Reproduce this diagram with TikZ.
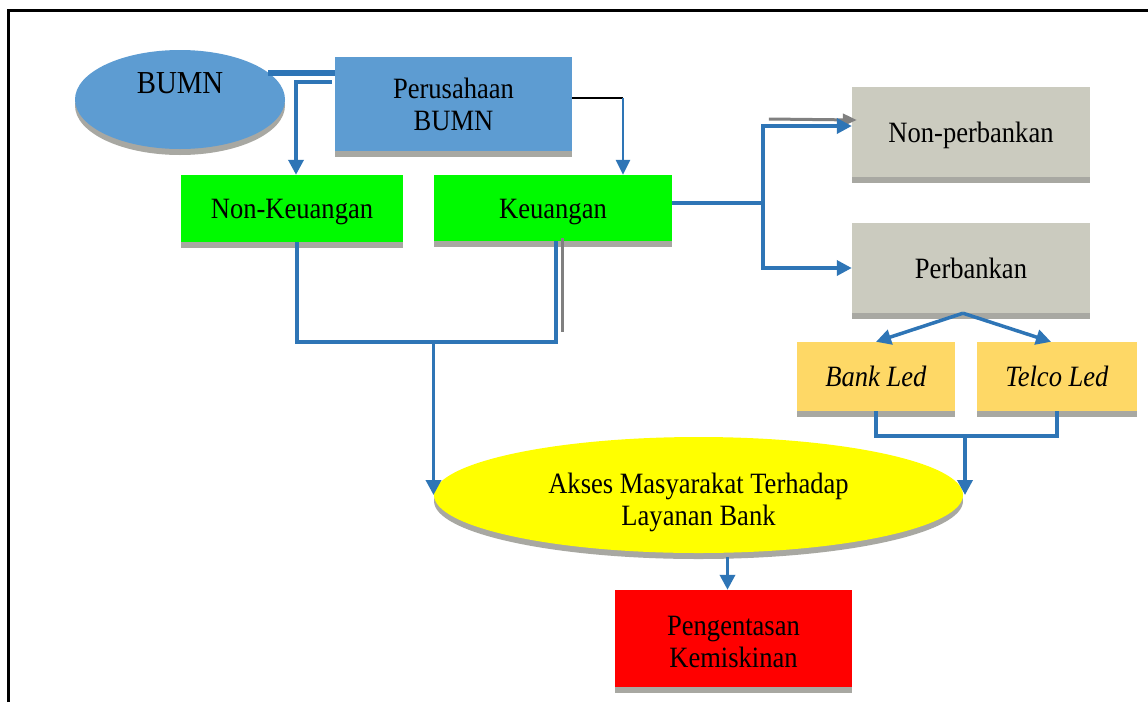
\documentclass[tikz,border=0pt]{standalone}
\usepackage{fontspec}
\setmainfont[FakeStretch=0.9]{Liberation Serif}
\usetikzlibrary{arrows.meta,shapes.geometric,shadows}
\definecolor{cblue}{RGB}{46,117,182}
\definecolor{boxblue}{RGB}{93,156,210}
\definecolor{boxgreen}{RGB}{0,250,0}
\definecolor{boxgray}{RGB}{203,203,191}
\definecolor{boxgold}{RGB}{254,216,102}
\definecolor{boxyellow}{RGB}{255,255,0}
\definecolor{boxred}{RGB}{255,0,0}
\definecolor{shadowgray}{RGB}{168,168,162}
\definecolor{ghost}{RGB}{128,128,128}
\newcommand\twoln[3][6pt]{\raisebox{#1}[0pt][0pt]{\begin{tabular}[t]{@{}c@{}}#2\\#3\end{tabular}}}
\begin{document}
\begin{tikzpicture}[x=1pt,y=-1pt,
  every node/.style={font=\fontsize{29.5}{32}\selectfont, inner sep=0pt, align=center},
  oneline/.style={text height=21pt, text depth=1pt},
  shadowed/.style={drop shadow={shadow xshift=0pt,shadow yshift=-6pt,fill=shadowgray,opacity=1}},
  boxstyle/.style={rectangle, shadowed, minimum width=#1},
  conn/.style={draw=cblue, line width=3.5pt},
  thinconn/.style={draw=cblue, line width=2.5pt},
  arr/.style={conn, -{Triangle[length=15pt,width=15pt]}},
  thinarr/.style={thinconn, -{Triangle[length=15pt,width=14pt]}},
  ghostline/.style={draw=ghost, line width=3pt},
  frameline/.style={draw=black, line width=3pt}
]
\useasboundingbox (0,0) rectangle (1148,702);
\fill[white] (0,0) rectangle (1148,702);
\draw[frameline] (8,702) -- (8,10) -- (1148,10);

% nodes
\node[ellipse, shadowed, fill=boxblue, minimum width=210pt, minimum height=99pt] (bumn) at (180,99.5)
  {\fontsize{32}{36}\selectfont\raisebox{6pt}[0pt][0pt]{BUMN}};
\node[boxstyle=237pt, fill=boxblue, minimum height=94pt] (pbumn) at (453.5,104) {\twoln{Perusahaan}{BUMN}};
\node[boxstyle=222pt, oneline, fill=boxgreen, minimum height=67pt] (nonk) at (292,208.5) {Non-Keuangan};
\node[boxstyle=238pt, oneline, fill=boxgreen, minimum height=66pt] (keu) at (553,208) {Keuangan};
\node[boxstyle=238pt, oneline, fill=boxgray, minimum height=90pt] (nonp) at (971,132) {Non-perbankan};
\node[boxstyle=238pt, oneline, fill=boxgray, minimum height=90pt] (perb) at (971,268) {Perbankan};
\node[boxstyle=158pt, oneline, fill=boxgold, minimum height=69pt] (bank) at (876,376.5) {\textit{Bank Led}};
\node[boxstyle=160pt, oneline, fill=boxgold, minimum height=69pt] (telco) at (1057,376.5) {\textit{Telco Led}};
\node[ellipse, shadowed, fill=boxyellow, minimum width=529pt, minimum height=116pt] (akses) at (698.5,495)
  {\twoln[2pt]{Akses Masyarakat Terhadap}{Layanan Bank}};
\node[boxstyle=237pt, fill=boxred, minimum height=97pt] (pov) at (733.5,638.5) {\twoln[3.5pt]{Pengentasan}{Kemiskinan}};

% BUMN -> Perusahaan, and branch to Non-Keuangan
\draw[draw=cblue, line width=6pt] (bumn.17) -- (bumn.17 -| pbumn.west);
\draw[arr] ([xshift=-3pt,yshift=22pt]pbumn.west) -| ([xshift=4pt]nonk.north);

% Perusahaan -> Keuangan
\coordinate (pk) at (623,98);
\draw[draw=black, line width=1.2pt] ([yshift=6pt]pbumn.east) -- (pk);
\draw[thinarr] (pk) -- (pk |- keu.north);

% Keuangan -> Non-perbankan / Perbankan
\coordinate (kb) at (763,203);
\draw[conn] (kb -| keu.east) -- (kb);
\draw[ghostline, -{Triangle[length=14pt,width=12pt]}] ([xshift=-83pt,yshift=13pt]nonp.west) -- ([xshift=5pt,yshift=12pt]nonp.west);
\draw[arr] (kb) |- ([yshift=6pt]nonp.west);
\draw[arr] (kb) |- (perb.west);

% Perbankan -> Bank Led / Telco Led
\coordinate (pa) at ([xshift=-8pt]perb.south);
\draw[arr] (pa) -- (bank.north);
\draw[arr] (pa) -- ([xshift=-6pt]telco.north);

% Non-Keuangan + Keuangan -> Akses
\draw[ghostline] ([xshift=9pt,yshift=3pt]keu.south) -- ++(0,94);
\coordinate (jl) at (433.5,342);
\draw[conn] ([xshift=5pt]nonk.south) |- (jl) -| ([xshift=3pt]keu.south);
\draw[arr] (jl) -- (jl |- akses.west);

% Bank Led + Telco Led -> Akses
\coordinate (jr) at (965,436);
\draw[conn] (bank.south) |- (jr) -| (telco.south);
\draw[arr] (jr) -- (jr |- akses.east);

% Akses -> Pengentasan
\coordinate (pt) at ([xshift=-6pt]pov.north);
\draw[arr] ([yshift=-4pt]pt |- akses.south) -- (pt);
\end{tikzpicture}
\end{document}
